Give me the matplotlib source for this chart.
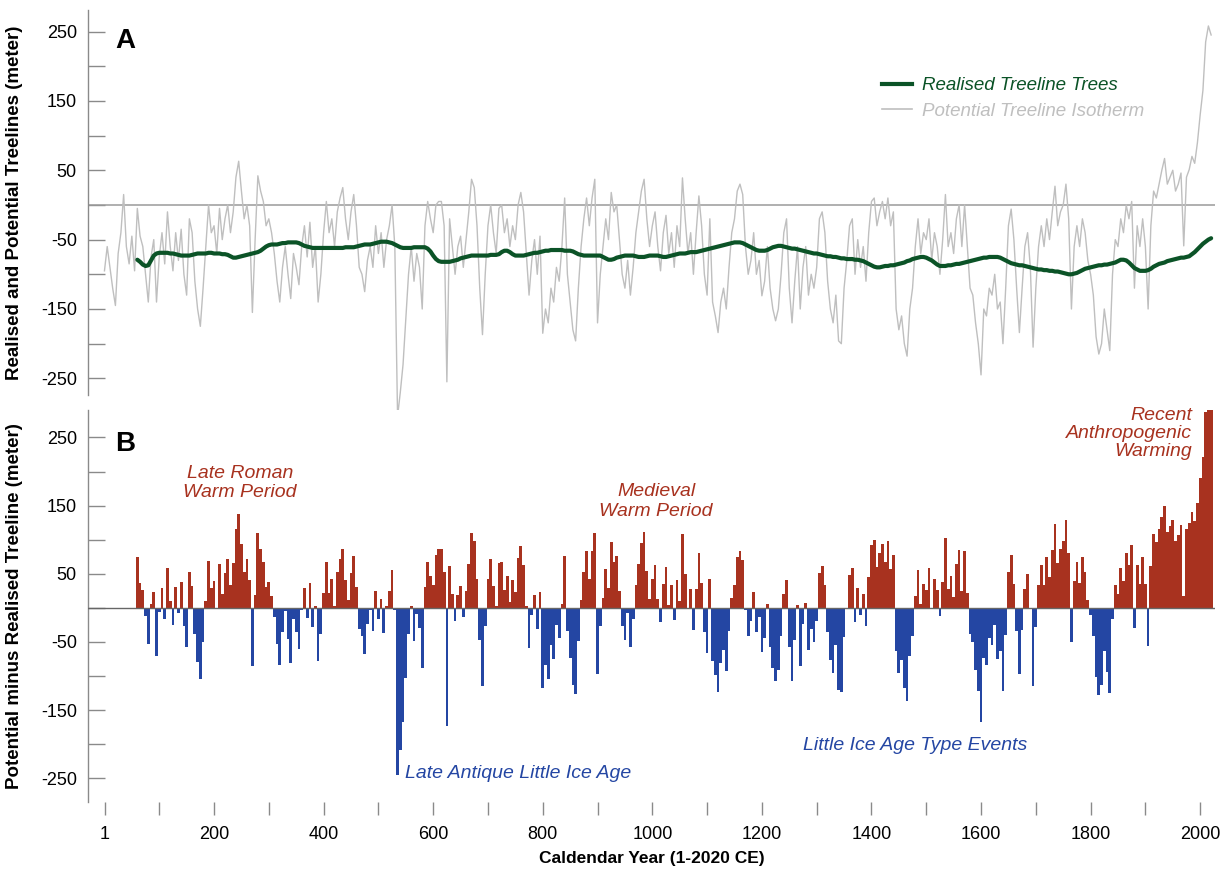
import numpy as np
import matplotlib.pyplot as plt
from matplotlib.lines import Line2D

plt.rcParams['font.family'] = ['Liberation Sans', 'DejaVu Sans']
plt.rcParams['axes.unicode_minus'] = False

# potential treeline isotherm, every 5 years from year 0 to 2020 (m)
potential = [
    -95, -60, -90, -120, -145, -70, -40, 15, -60, -85, -45, -95, -5, -45, -60, -100, -140, -75, -50, -140,
    -75, -40, -85, -10, -60, -95, -40, -80, -35, -100, -130, -20, -40, -110, -150, -175, -120, -60, 0, -40,
    -30, -70, -5, -50, -20, 0, -40, -10, 40, 63, 20, -20, 0, -30, -155, -50, 42, 20, 5, -30,
    -20, -40, -70, -110, -140, -90, -60, -100, -135, -70, -90, -115, -60, -30, -75, -25, -90, -60, -140, -100,
    -40, 5, -40, -20, -60, -10, 10, 25, -20, -50, -10, 15, -30, -90, -100, -125, -80, -60, -90, -30,
    -70, -40, -90, -50, -30, 0, -60, -305, -270, -230, -165, -100, -60, -110, -70, -90, -150, -30, 5, -20,
    -40, 0, 5, 5, -30, -255, -20, -60, -100, -60, -45, -90, -50, -10, 37, 25, -30, -120, -187, -100,
    -30, 0, -40, -70, -5, 0, -40, -20, -60, -30, -50, 0, 18, -10, -70, -130, -80, -50, -100, -45,
    -185, -150, -170, -120, -140, -90, -110, -60, 10, -100, -140, -180, -196, -120, -60, -20, 10, -30, 10, 37,
    -170, -100, -60, -20, -50, 18, -10, 0, -50, -100, -120, -80, -130, -90, -40, -10, 20, 37, -20, -60,
    -30, -10, -60, -95, -40, -15, -70, -40, -90, -30, -60, 39, -20, -70, -40, -100, -40, 13, -30, -100,
    -130, -20, -140, -160, -184, -140, -120, -150, -90, -40, -20, 20, 30, 15, -60, -100, -80, -40, -100, -80,
    -131, -110, -60, -120, -150, -167, -150, -100, -40, -20, -120, -170, -110, -60, -150, -90, -60, -130, -100, -120,
    -90, -20, -10, -40, -110, -150, -170, -130, -196, -200, -120, -80, -30, -20, -100, -50, -90, -60, -110, -40,
    5, 10, -30, -10, 5, -20, 10, -30, -10, -150, -180, -160, -200, -218, -150, -120, -60, -20, -70, -40,
    -50, -20, -80, -40, -60, -100, -50, 15, -60, -40, -70, -20, 0, -60, 0, -60, -120, -130, -170, -200,
    -245, -150, -160, -120, -130, -100, -150, -140, -200, -120, -30, -6, -50, -120, -184, -120, -60, -40, -90, -205,
    -120, -60, -30, -60, -20, -50, -10, 27, -30, -10, 0, 30, -20, -150, -60, -30, -60, -20, -40, -80,
    -100, -130, -190, -215, -200, -150, -180, -210, -100, -50, -60, -20, -40, 0, -20, 5, -120, -30, -60, -20,
    -60, -150, -30, 20, 10, 30, 50, 67, 30, 40, 50, 20, 30, 46, -59, 40, 51, 70, 60, 90,
    130, 165, 235, 258, 245,
]

# realised treeline trees, every 5 years from year 60 to 2020 (m)
realised = [
    -79, -82, -86, -88, -87, -80, -73, -70,
    -69, -69, -69, -69, -70, -70, -71, -72, -73, -73, -73, -73, -72, -71, -70, -70, -70, -70, -69, -69,
    -70, -70, -70, -71, -71, -72, -74, -76, -76, -75, -74, -73, -72, -71, -70, -69, -68, -66, -63, -60,
    -58, -57, -57, -57, -56, -55, -55, -54, -54, -54, -54, -55, -57, -59, -60, -61, -62, -62, -62, -62,
    -62, -62, -62, -62, -62, -62, -62, -62, -61, -61, -61, -61, -60, -59, -58, -57, -57, -57, -56, -55,
    -54, -53, -53, -53, -54, -55, -57, -59, -61, -62, -62, -62, -62, -61, -61, -61, -61, -61, -63, -67,
    -73, -78, -81, -82, -82, -82, -82, -81, -80, -79, -77, -76, -75, -74, -73, -73, -73, -73, -73, -73,
    -73, -72, -72, -72, -71, -68, -66, -66, -68, -71, -73, -73, -73, -73, -72, -71, -70, -69, -69, -68,
    -67, -66, -66, -65, -65, -65, -65, -65, -66, -66, -66, -67, -69, -71, -72, -73, -73, -73, -73, -73,
    -73, -73, -75, -77, -79, -79, -78, -76, -75, -74, -73, -73, -73, -73, -74, -75, -75, -75, -74, -73,
    -73, -73, -73, -74, -75, -75, -74, -73, -72, -71, -70, -70, -70, -69, -68, -68, -68, -67, -66, -65,
    -64, -63, -62, -61, -60, -59, -58, -57, -56, -55, -54, -54, -54, -55, -57, -59, -61, -63, -65, -66,
    -66, -66, -65, -63, -61, -60, -59, -59, -60, -61, -62, -63, -63, -64, -65, -66, -67, -68, -69, -70,
    -70, -71, -72, -73, -74, -74, -75, -75, -76, -77, -77, -78, -78, -78, -79, -79, -80, -81, -83, -85,
    -87, -89, -90, -90, -89, -88, -88, -87, -87, -86, -85, -84, -83, -81, -80, -78, -77, -76, -75, -75,
    -76, -78, -80, -83, -86, -88, -88, -88, -87, -87, -86, -85, -85, -84, -83, -82, -81, -80, -79, -78,
    -77, -76, -76, -75, -75, -75, -75, -76, -78, -80, -82, -84, -85, -86, -87, -87, -88, -89, -90, -91,
    -92, -93, -93, -94, -94, -95, -95, -96, -96, -97, -98, -99, -100, -100, -99, -98, -96, -94, -92, -91,
    -90, -89, -88, -87, -87, -86, -86, -85, -84, -83, -81, -79, -79, -80, -83, -87, -91, -93, -95, -95,
    -95, -94, -92, -89, -87, -85, -84, -83, -81, -80, -79, -78, -77, -76, -76, -75, -74, -71, -68, -64,
    -60, -56, -53, -50, -48,
]

x_ticks = [1, 200, 400, 600, 800, 1000, 1200, 1400, 1600, 1800, 2000]
y_ticks = [250, 150, 50, -50, -150, -250]

pot = np.array(potential, dtype=float)
real = np.array(realised, dtype=float)
pot_years = np.arange(len(pot)) * 5
real_years = 60 + np.arange(len(real)) * 5
start = int(np.where(pot_years == 60)[0][0])
diff = pot[start:start + len(real)] - real

red = '#A8321F'
blue = '#2446A3'
green = '#0B5327'
lgray = '#BFBFBF'
axcol = '#8A8A8A'

fig = plt.figure(figsize=(12.26, 8.71), dpi=100)
axA = fig.add_axes([0.0718, 0.5465, 0.9192, 0.442])
axB = fig.add_axes([0.0718, 0.0792, 0.9192, 0.4498])

for ax in (axA, axB):
    ax.set_xlim(-30, 2027)
    for s in ('top', 'right', 'bottom'):
        ax.spines[s].set_visible(False)
    ax.spines['left'].set_color(axcol)
    ax.spines['left'].set_linewidth(1)
    ax.set_yticks(y_ticks)
    ax.set_yticks([200, 100, 0, -100, -200], minor=True)
    ax.tick_params(axis='y', which='both', direction='in', length=12, width=1,
                   color=axcol, pad=8, labelsize=13)

# panel A
axA.set_ylim(-274, 281)
axA.axhline(0, color='#9A9A9A', lw=1.1)
axA.plot(pot_years, pot, color=lgray, lw=1.0, clip_on=False, zorder=2)
axA.plot(real_years, real, color=green, lw=3, zorder=3, solid_capstyle='round')
axA.set_xticks([])
axA.set_ylabel('Realised and Potential Treelines (meter)', fontsize=13.5, fontweight='bold')
axA.yaxis.set_label_coords(-0.058, 0.5)
axA.text(0.024, 0.92, 'A', transform=axA.transAxes, fontsize=20, fontweight='bold',
         ha='left', va='center')
handles = [Line2D([], [], color=green, lw=3), Line2D([], [], color=lgray, lw=1.2)]
axA.legend(handles, ['Realised Treeline Trees', 'Potential Treeline Isotherm'],
           loc='upper left', bbox_to_anchor=(0.69, 0.87), frameon=False,
           prop={'style': 'italic', 'size': 13.5}, labelcolor=[green, lgray],
           handlelength=1.6, handletextpad=0.5, labelspacing=0.45)

# panel B
axB.set_ylim(-285, 290)
axB.bar(real_years, diff, width=5, color=np.where(diff >= 0, red, blue), linewidth=0, zorder=2)
axB.axhline(0, color='#666666', lw=1.0, zorder=3)
axB.set_ylabel('Potential minus Realised Treeline (meter)', fontsize=13.5, fontweight='bold')
axB.yaxis.set_label_coords(-0.058, 0.5)
axB.text(0.024, 0.915, 'B', transform=axB.transAxes, fontsize=20, fontweight='bold',
         ha='left', va='center')
axB.set_xticks(x_ticks)
axB.set_xticks(np.arange(100, 2000, 200), minor=True)
axB.tick_params(axis='x', which='both', direction='out', length=9, width=1,
                color=axcol, pad=8, labelsize=13)
axB.set_xlabel('Caldendar Year (1-2020 CE)', fontsize=12.5, fontweight='bold', labelpad=6)

tkw = dict(fontsize=14, fontstyle='italic', va='center')
axB.text(247, 183, 'Late Roman\nWarm Period', color=red, ha='center', **tkw)
axB.text(1007, 156, 'Medieval\nWarm Period', color=red, ha='center', **tkw)
axB.text(1985, 256, 'Recent\nAnthropogenic\nWarming', color=red, ha='right',
         multialignment='right', linespacing=1.1, **tkw)
axB.text(549, -243, 'Late Antique Little Ice Age', color=blue, ha='left', **tkw)
axB.text(1275, -202, 'Little Ice Age Type Events', color=blue, ha='left', **tkw)

fig.savefig('out.png', dpi=100)
